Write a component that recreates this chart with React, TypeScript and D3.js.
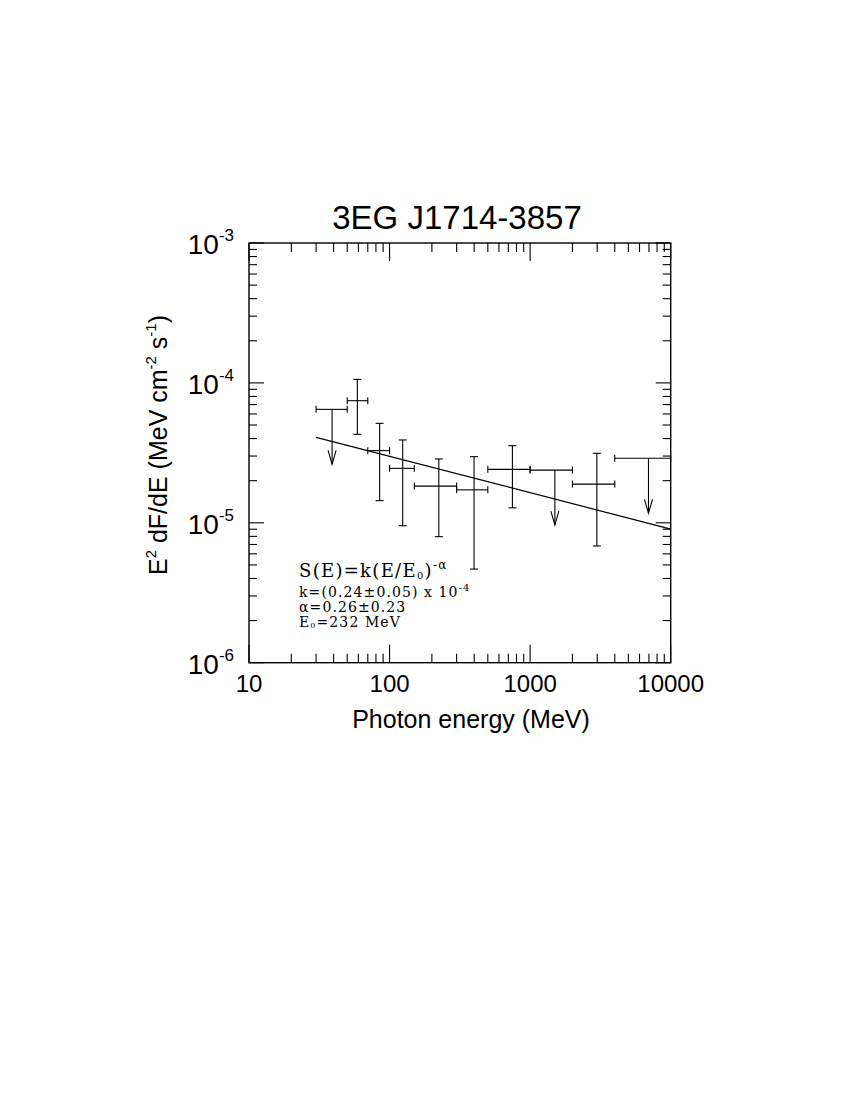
import React from "react";
import * as d3 from "d3";

const title = "3EG J1714-3857";
const eLo = [30, 50, 70, 100, 150, 300, 500, 1000, 2000, 4000];
const eHi = [50, 70, 100, 150, 300, 500, 1000, 2000, 4000, 10000];
const eCenter = [39, 59, 85, 124, 224, 399, 748, 1500, 2983, 6950];
const flux = [6.47e-5, 7.46e-5, 3.28e-5, 2.45e-5, 1.83e-5, 1.72e-5, 2.41e-5, 2.38e-5, 1.89e-5, 2.89e-5];
const fluxHi = [null, 1.06e-4, 5.14e-5, 3.91e-5, 2.86e-5, 2.97e-5, 3.56e-5, null, 3.14e-5, null];
const fluxLo = [null, 4.29e-5, 1.44e-5, 9.53e-6, 7.96e-6, 4.67e-6, 1.28e-5, null, 6.83e-6, null];
const isUpperLimit = [true, false, false, false, false, false, false, true, false, true];

const fitK = 0.24e-4;
const fitAlpha = 0.26;
const fitE0 = 232;
const fitRange = [30, 10000];

const xTickValues = [10, 100, 1000, 10000];
const xTickLabels = ["10", "100", "1000", "10000"];
const yTickValues = [1e-6, 1e-5, 1e-4, 1e-3];
const yTickExps = ["-6", "-5", "-4", "-3"];

const L = 249, R = 670.7, T = 243, B = 662.7;

export default function App() {
  const x = d3.scaleLog().domain([10, 10000]).range([L, R]);
  const y = d3.scaleLog().domain([1e-6, 1e-3]).range([B, T]);

  const minorX: number[] = [];
  for (let dec = 10; dec < 10000; dec *= 10) for (let m = 2; m <= 9; m++) minorX.push(dec * m);
  const minorY: number[] = [];
  for (let dec = 1e-6; dec < 1e-3 * 0.99; dec *= 10) for (let m = 2; m <= 9; m++) minorY.push(dec * m);

  const stroke = "#000";
  const sw = 1.1;
  const fitVals = fitRange.map((e) => [e, fitK * Math.pow(e / fitE0, -fitAlpha)] as [number, number]);
  const line = d3.line<[number, number]>().x((d) => x(d[0])).y((d) => y(d[1]));

  const arrowLen = 55;
  const capV = 4;
  const capH = 3.5;

  return (
    <svg width={850} height={1100} style={{ position: "absolute", left: 0, top: 0, background: "#fff" }}
      fontFamily="'Liberation Sans', Arial, sans-serif">
      <rect x={0} y={0} width={850} height={1100} fill="#fff" />
      {/* frame */}
      <rect x={L} y={T} width={R - L} height={B - T} fill="none" stroke={stroke} strokeWidth={1.4} />
      {/* x ticks */}
      {xTickValues.map((v, i) => (
        <g key={"xt" + i}>
          <line x1={x(v)} x2={x(v)} y1={B} y2={B - 18} stroke={stroke} strokeWidth={sw} />
          <line x1={x(v)} x2={x(v)} y1={T} y2={T + 18} stroke={stroke} strokeWidth={sw} />
          <text x={x(v)} y={692} fontSize={24} textAnchor="middle">{xTickLabels[i]}</text>
        </g>
      ))}
      {minorX.map((v, i) => (
        <g key={"xm" + i}>
          <line x1={x(v)} x2={x(v)} y1={B} y2={B - 9} stroke={stroke} strokeWidth={sw} />
          <line x1={x(v)} x2={x(v)} y1={T} y2={T + 9} stroke={stroke} strokeWidth={sw} />
        </g>
      ))}
      {/* y ticks */}
      {yTickValues.map((v, i) => (
        <g key={"yt" + i}>
          <line x1={L} x2={L + 15} y1={y(v)} y2={y(v)} stroke={stroke} strokeWidth={sw} />
          <line x1={R} x2={R - 15} y1={y(v)} y2={y(v)} stroke={stroke} strokeWidth={sw} />
          <text x={234} y={y(v) + 11} fontSize={28} textAnchor="end">
            <tspan>10</tspan>
            <tspan dy={-13} fontSize={17}>{yTickExps[i]}</tspan>
          </text>
        </g>
      ))}
      {minorY.map((v, i) => (
        <g key={"ym" + i}>
          <line x1={L} x2={L + 8} y1={y(v)} y2={y(v)} stroke={stroke} strokeWidth={sw} />
          <line x1={R} x2={R - 8} y1={y(v)} y2={y(v)} stroke={stroke} strokeWidth={sw} />
        </g>
      ))}
      {/* fit line */}
      <path d={line(fitVals) || ""} fill="none" stroke={stroke} strokeWidth={1.2} />
      {/* data */}
      {eCenter.map((ec, i) => {
        const cx = x(ec);
        const cy = y(flux[i]);
        const x0 = x(eLo[i]);
        const x1 = x(eHi[i]);
        return (
          <g key={"d" + i} stroke={stroke} strokeWidth={sw} fill="none">
            <line x1={x0} x2={x1} y1={cy} y2={cy} />
            <line x1={x0} x2={x0} y1={cy - capH} y2={cy + capH} />
            <line x1={x1} x2={x1} y1={cy - capH} y2={cy + capH} />
            {isUpperLimit[i] ? (
              <>
                <line x1={cx} x2={cx} y1={cy} y2={cy + arrowLen} />
                <polyline points={`${cx - 4},${cy + arrowLen - 14} ${cx},${cy + arrowLen} ${cx + 4},${cy + arrowLen - 14}`} />
              </>
            ) : (
              <>
                <line x1={cx} x2={cx} y1={y(fluxHi[i] as number)} y2={y(fluxLo[i] as number)} />
                <line x1={cx - capV} x2={cx + capV} y1={y(fluxHi[i] as number)} y2={y(fluxHi[i] as number)} />
                <line x1={cx - capV} x2={cx + capV} y1={y(fluxLo[i] as number)} y2={y(fluxLo[i] as number)} />
              </>
            )}
          </g>
        );
      })}
      {/* annotation */}
      <g fontFamily="'DejaVu Serif', serif" fill="#000">
        <text x={299} y={577} fontSize={18} letterSpacing={1.3}>
          <tspan>S(E)=k(E/E</tspan>
          <tspan fontSize={10} dy={2}>0</tspan>
          <tspan dy={-2}>)</tspan>
          <tspan fontSize={12} dy={-8}>-α</tspan>
        </text>
        <text x={299} y={597} fontSize={14} letterSpacing={1.1}>
          <tspan>k=(0.24±0.05) x 10</tspan>
          <tspan fontSize={10} dy={-6}>-4</tspan>
        </text>
        <text x={299} y={612} fontSize={14} letterSpacing={1.1}>α=0.26±0.23</text>
        <text x={299} y={627} fontSize={14} letterSpacing={1.1}>
          <tspan>E</tspan>
          <tspan fontSize={8} dy={1}>0</tspan>
          <tspan dy={-1}>=232 MeV</tspan>
        </text>
      </g>
      {/* titles */}
      <text x={457} y={229} fontSize={33} textAnchor="middle">{title}</text>
      <text x={471} y={728} fontSize={25} textAnchor="middle">Photon energy (MeV)</text>
      <text transform="translate(167,445) rotate(-90)" fontSize={25} textAnchor="middle">
        <tspan>E</tspan>
        <tspan fontSize={15} dy={-11}>2</tspan>
        <tspan dy={11}> dF/dE (MeV cm</tspan>
        <tspan fontSize={15} dy={-11}>-2</tspan>
        <tspan dy={11}> s</tspan>
        <tspan fontSize={15} dy={-11}>-1</tspan>
        <tspan dy={11}>)</tspan>
      </text>
    </svg>
  );
}
